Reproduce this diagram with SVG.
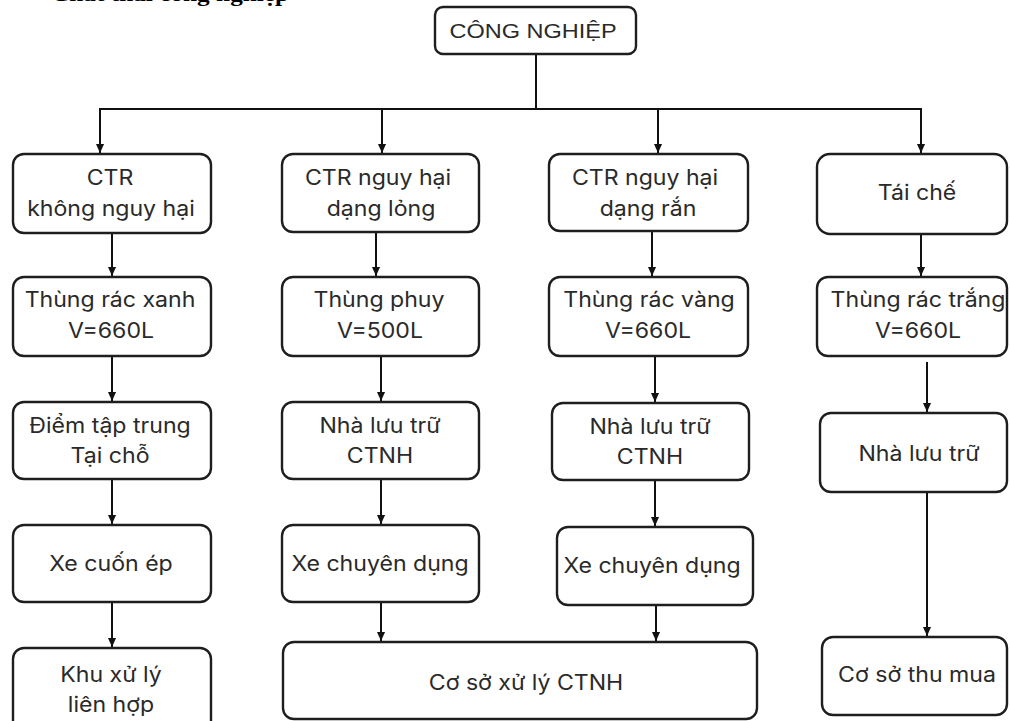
<svg xmlns="http://www.w3.org/2000/svg" width="1010" height="721" viewBox="0 0 1010 721">
<defs>
<style>
.box{fill:#fff;stroke:#1e1e1e;stroke-width:2.4}
.ln{fill:none;stroke:#111;stroke-width:2}
.t{font-family:Inter,"Noto Sans","DejaVu Sans",sans-serif;font-size:21px;fill:#2a2a2a;text-anchor:middle}
.h{font-family:"Liberation Sans",Arial,sans-serif;font-size:21px;fill:#2a2a2a;text-anchor:middle}
.title{font-family:"Liberation Serif","Times New Roman",serif;font-weight:bold;font-size:20.4px;fill:#000}
</style>
<marker id="ah" viewBox="0 0 10 10" refX="10" refY="5" markerWidth="10" markerHeight="9" markerUnits="userSpaceOnUse" orient="auto">
<path d="M0,0.5 L10,5 L0,9.5 z" fill="#111"/>
</marker>
</defs>
<rect width="1010" height="721" fill="#fff"/>
<text class="title" transform="translate(51,0.5) scale(1.24,1)">Chất thải công nghiệp</text>

<g id="connectors">
<path class="ln" d="M536 54 V109"/>
<path class="ln" d="M99 109 H922"/>
<path class="ln" d="M100 109 V153" marker-end="url(#ah)"/>
<path class="ln" d="M382 109 V153" marker-end="url(#ah)"/>
<path class="ln" d="M658 109 V153" marker-end="url(#ah)"/>
<path class="ln" d="M921 109 V153" marker-end="url(#ah)"/>

<path class="ln" d="M112 233 V276" marker-end="url(#ah)"/>
<path class="ln" d="M376 233 V276" marker-end="url(#ah)"/>
<path class="ln" d="M652 232 V276" marker-end="url(#ah)"/>
<path class="ln" d="M921 234 V276" marker-end="url(#ah)"/>

<path class="ln" d="M112 356 V401" marker-end="url(#ah)"/>
<path class="ln" d="M381 356 V401" marker-end="url(#ah)"/>
<path class="ln" d="M655 356 V402" marker-end="url(#ah)"/>
<path class="ln" d="M927 362 V412" marker-end="url(#ah)"/>

<path class="ln" d="M112 479 V524" marker-end="url(#ah)"/>
<path class="ln" d="M381 479 V524" marker-end="url(#ah)"/>
<path class="ln" d="M655 480 V526" marker-end="url(#ah)"/>

<path class="ln" d="M112 602 V647" marker-end="url(#ah)"/>
<path class="ln" d="M381 602 V641" marker-end="url(#ah)"/>
<path class="ln" d="M656 605 V641" marker-end="url(#ah)"/>
<path class="ln" d="M927 492 V636" marker-end="url(#ah)"/>
</g>

<g id="cong-nghiep">
<rect class="box" x="435" y="7" width="201" height="47" rx="8"/>
<text class="h" transform="translate(533,38) scale(1.12,1)">CÔNG NGHIỆP</text>
</g>

<g id="ctr-khong-nguy-hai">
<rect class="box" x="13" y="154" width="198" height="79" rx="11"/>
<text class="t" transform="translate(110,185) scale(1.1,1)">CTR</text>
<text class="t" transform="translate(111,216) scale(1.1,1)">không nguy hại</text>
</g>
<g id="ctr-nguy-hai-long">
<rect class="box" x="282" y="154" width="197" height="78" rx="11"/>
<text class="t" transform="translate(378,185) scale(1.1,1)">CTR nguy hại</text>
<text class="t" transform="translate(381,216) scale(1.1,1)">dạng lỏng</text>
</g>
<g id="ctr-nguy-hai-ran">
<rect class="box" x="549" y="154" width="199" height="77" rx="11"/>
<text class="t" transform="translate(645,185) scale(1.1,1)">CTR nguy hại</text>
<text class="t" transform="translate(648,216) scale(1.1,1)">dạng rắn</text>
</g>
<g id="tai-che">
<rect class="box" x="817" y="154" width="190" height="80" rx="13"/>
<text class="t" transform="translate(917,200) scale(1.1,1)">Tái chế</text>
</g>

<g id="thung-rac-xanh">
<rect class="box" x="13" y="277" width="198" height="79" rx="11"/>
<text class="t" transform="translate(110,307) scale(1.1,1)">Thùng rác xanh</text>
<text class="t" transform="translate(111,338) scale(1.1,1)">V=660L</text>
</g>
<g id="thung-phuy">
<rect class="box" x="282" y="277" width="197" height="79" rx="11"/>
<text class="t" transform="translate(379,307) scale(1.1,1)">Thùng phuy</text>
<text class="t" transform="translate(380,338) scale(1.1,1)">V=500L</text>
</g>
<g id="thung-rac-vang">
<rect class="box" x="549" y="277" width="199" height="79" rx="11"/>
<text class="t" transform="translate(649,307) scale(1.1,1)">Thùng rác vàng</text>
<text class="t" transform="translate(648,338) scale(1.1,1)">V=660L</text>
</g>
<g id="thung-rac-trang">
<rect class="box" x="817" y="277" width="190" height="79" rx="11"/>
<text class="t" transform="translate(918,307) scale(1.1,1)">Thùng rác trắng</text>
<text class="t" transform="translate(918,338) scale(1.1,1)">V=660L</text>
</g>

<g id="diem-tap-trung">
<rect class="box" x="13" y="402" width="198" height="77" rx="11"/>
<text class="t" transform="translate(110,433) scale(1.1,1)">Điểm tập trung</text>
<text class="t" transform="translate(110,463) scale(1.1,1)">Tại chỗ</text>
</g>
<g id="nha-luu-tru-ctnh-1">
<rect class="box" x="282" y="402" width="197" height="77" rx="11"/>
<text class="t" transform="translate(380,433) scale(1.1,1)">Nhà lưu trữ</text>
<text class="t" transform="translate(380,463) scale(1.1,1)">CTNH</text>
</g>
<g id="nha-luu-tru-ctnh-2">
<rect class="box" x="552" y="403" width="197" height="77" rx="11"/>
<text class="t" transform="translate(650,434) scale(1.1,1)">Nhà lưu trữ</text>
<text class="t" transform="translate(650,464) scale(1.1,1)">CTNH</text>
</g>
<g id="nha-luu-tru">
<rect class="box" x="820" y="413" width="187" height="79" rx="11"/>
<text class="t" transform="translate(919,461) scale(1.1,1)">Nhà lưu trữ</text>
</g>

<g id="xe-cuon-ep">
<rect class="box" x="13" y="525" width="198" height="77" rx="11"/>
<text class="t" transform="translate(111,571) scale(1.1,1)">Xe cuốn ép</text>
</g>
<g id="xe-chuyen-dung-1">
<rect class="box" x="282" y="525" width="197" height="77" rx="11"/>
<text class="t" transform="translate(380,571) scale(1.1,1)">Xe chuyên dụng</text>
</g>
<g id="xe-chuyen-dung-2">
<rect class="box" x="557" y="527" width="196" height="78" rx="11"/>
<text class="t" transform="translate(652,573) scale(1.1,1)">Xe chuyên dụng</text>
</g>

<g id="khu-xu-ly">
<rect class="box" x="13" y="648" width="198" height="85" rx="11"/>
<text class="t" transform="translate(111,682) scale(1.1,1)">Khu xử lý</text>
<text class="t" transform="translate(111,712) scale(1.1,1)">liên hợp</text>
</g>
<g id="co-so-xu-ly-ctnh">
<rect class="box" x="283" y="642" width="474" height="77" rx="11"/>
<text class="t" transform="translate(526,690) scale(1.1,1)">Cơ sở xử lý CTNH</text>
</g>
<g id="co-so-thu-mua">
<rect class="box" x="822" y="637" width="185" height="78" rx="11"/>
<text class="t" transform="translate(917,682) scale(1.1,1)">Cơ sở thu mua</text>
</g>
</svg>
